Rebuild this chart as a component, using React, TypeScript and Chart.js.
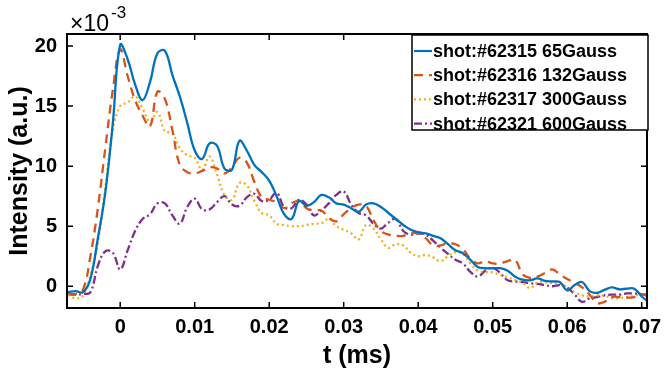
import React, { useEffect, useRef } from 'react';
import { Chart, registerables } from 'chart.js';

Chart.register(...registerables);

// time axis (ms)
const T_MS = [
  -0.007, -0.006, -0.005, -0.004, -0.003, -0.002, -0.001,
  0.0, 0.001, 0.002, 0.003, 0.004, 0.005, 0.006, 0.007, 0.008, 0.009,
  0.01, 0.011, 0.012, 0.013, 0.014, 0.015, 0.016, 0.017, 0.018, 0.019,
  0.02, 0.021, 0.022, 0.023, 0.024, 0.025, 0.026, 0.027, 0.028, 0.029,
  0.03, 0.031, 0.032, 0.033, 0.034, 0.035, 0.036, 0.037, 0.038, 0.039,
  0.04, 0.041, 0.042, 0.043, 0.044, 0.045, 0.046, 0.047, 0.048, 0.049,
  0.05, 0.051, 0.052, 0.053, 0.054, 0.055, 0.056, 0.057, 0.058, 0.059,
  0.06, 0.061, 0.062, 0.063, 0.064, 0.065, 0.066, 0.067, 0.068, 0.069,
  0.07, 0.0707,
];

// intensities in units of 1e-3 (a.u.)
const SHOT_62315 = [
  -0.5, -0.4, -0.5, 0.6, 4.0, 7.8, 13.5,
  20.1, 18.9, 16.8, 15.5, 17.0, 19.4, 19.6, 17.6, 15.8, 13.6,
  11.3, 10.6, 11.9, 11.7, 9.8, 9.7, 12.1, 11.3, 10.1, 9.5,
  8.8, 7.5, 6.0, 5.6, 7.1, 6.7, 7.0, 7.6, 7.4, 6.9,
  6.8, 6.5, 6.2, 6.8, 6.9, 6.6, 6.1, 5.6, 5.1, 4.7,
  4.5, 4.4, 4.2, 4.0, 3.5, 3.0, 2.75, 2.2, 1.6, 1.5,
  1.5, 1.5, 1.3, 0.8, 0.55, 0.5, 0.65, 0.45, 0.4, 0.35,
  -0.35, 0.1, 0.35, -0.4, -0.55, -0.3, -0.1, -0.25, -0.2, -0.2,
  -0.85, -1.2,
];

const SHOT_62316 = [
  -0.6, -0.65, -0.3, 2.5, 6.5, 11.5, 16.3,
  19.7, 17.5, 15.5, 14.2, 13.3, 16.2, 15.6, 13.0, 10.1, 9.5,
  9.4, 9.6, 9.9, 9.8, 9.4, 9.9, 10.7, 10.3, 8.7, 7.4,
  7.2, 7.0, 6.5, 6.9, 7.1, 6.5, 6.3, 6.3, 5.7, 5.4,
  6.0, 6.5, 6.8, 6.7, 5.5, 4.6, 4.3, 4.2, 4.2, 4.4,
  4.4, 4.0, 3.4, 3.4, 3.6, 3.5, 3.1, 2.3, 1.9, 2.1,
  1.9, 1.9, 2.1, 2.2, 1.0, 0.7, 0.8, 1.1, 1.4, 1.0,
  0.6, 0.3, -0.1, -0.7, -1.4, -1.3, -0.9, -0.9, -0.95, -0.9,
  -0.7, -0.8,
];

const SHOT_62317 = [
  -0.7, -1.0, -0.8, 0.9, 3.6, 8.2, 13.0,
  15.0, 15.3, 15.8, 14.8, 13.7, 14.5, 12.9, 12.75, 11.5, 10.9,
  10.7, 9.7, 10.8, 9.3, 7.6, 7.2, 8.6, 8.4, 7.1, 6.1,
  5.9, 5.2, 5.1, 5.0, 5.0, 5.1, 5.2, 5.25, 5.6, 5.0,
  4.7, 4.4, 3.9, 5.1, 4.8, 3.9, 3.2, 3.5, 3.4, 2.8,
  2.5, 2.6, 2.4, 2.1, 2.5, 2.85, 2.7, 1.9, 1.3, 1.2,
  1.15, 0.95, 0.75, 0.5, 0.3, -0.15, 0.3, 0.35, 0.25, 0.25,
  -0.1, -0.5, -0.75, -0.85, -0.75, -0.8, -1.0, -1.0, -0.9, -0.8,
  -0.7, -0.7,
];

const SHOT_62321 = [
  -0.7, -0.7, -0.65, -0.5, 1.7, 2.9, 2.8,
  1.4, 3.0, 4.6, 5.6, 6.0, 6.9, 6.9, 5.9, 5.2, 6.6,
  7.3, 6.4, 6.4, 7.0, 7.5, 6.8, 6.7, 7.4, 7.7, 7.1,
  7.2, 7.8, 6.6, 6.5, 7.2, 6.8, 5.9, 6.3, 6.9, 7.6,
  7.9, 6.8, 6.1, 5.9, 5.2, 4.8, 5.3, 5.6, 4.6, 4.3,
  4.4, 4.3, 3.8, 3.2, 2.7, 2.2, 1.9, 1.2, 0.8, 1.3,
  1.55, 1.1, 0.5, 0.4, 0.35, 0.25, 0.2, 0.1, 0.0, 0.1,
  -0.1, -0.7, -1.3, -1.0, -0.9, -0.75, -0.7, -0.7, -0.6, -0.6,
  -0.65, -0.7,
];

const SERIES_LABELS = [
  'shot:#62315 65Gauss',
  'shot:#62316 132Gauss',
  'shot:#62317 300Gauss',
  'shot:#62321 600Gauss',
];

const X_TICKS = [0, 0.01, 0.02, 0.03, 0.04, 0.05, 0.06, 0.07];
const Y_TICKS = [0, 5, 10, 15, 20];

const FONT = "'Liberation Sans', Arial, Helvetica, sans-serif";

const STYLES = [
  { color: '#0072BD', dash: [] as number[] },
  { color: '#D95319', dash: [9, 6] },
  { color: '#EDB120', dash: [2, 3] },
  { color: '#7E2F8E', dash: [8, 3, 2, 3] },
];

export default function App() {
  const ref = useRef<HTMLCanvasElement>(null);

  useEffect(() => {
    document.body.style.margin = '0';
    const canvas = ref.current;
    if (!canvas) return;

    const seriesValues = [SHOT_62315, SHOT_62316, SHOT_62317, SHOT_62321];

    const decor = {
      id: 'decor',
      afterDraw(chart: any) {
        const ctx = chart.ctx as CanvasRenderingContext2D;
        const { left, right, top, bottom } = chart.chartArea;
        const xs = chart.scales.x;
        const ys = chart.scales.y;
        ctx.save();
        // inward ticks
        ctx.strokeStyle = '#000';
        ctx.lineWidth = 1.5;
        ctx.setLineDash([]);
        const tl = 6;
        ctx.beginPath();
        X_TICKS.forEach((v) => {
          const px = xs.getPixelForValue(v);
          ctx.moveTo(px, bottom);
          ctx.lineTo(px, bottom - tl);
          ctx.moveTo(px, top);
          ctx.lineTo(px, top + tl);
        });
        Y_TICKS.forEach((v) => {
          const py = ys.getPixelForValue(v);
          ctx.moveTo(left, py);
          ctx.lineTo(left + tl, py);
          ctx.moveTo(right, py);
          ctx.lineTo(right - tl, py);
        });
        ctx.stroke();
        // axes box
        ctx.lineWidth = 2;
        ctx.strokeRect(left, top, right - left, bottom - top);

        // exponent label
        ctx.fillStyle = '#000';
        ctx.textBaseline = 'alphabetic';
        ctx.textAlign = 'left';
        ctx.font = `23px ${FONT}`;
        ctx.fillText('\u00d710', 70, 31);
        ctx.font = `17px ${FONT}`;
        ctx.fillText('-3', 111, 18);

        // legend
        const bx = 412, by = 35, bw = 236, bh = 95;
        ctx.fillStyle = '#fff';
        ctx.fillRect(bx, by, bw, bh);
        ctx.strokeStyle = '#000';
        ctx.lineWidth = 1.5;
        ctx.strokeRect(bx, by, bw, bh);
        ctx.font = `bold 18px ${FONT}`;
        ctx.textBaseline = 'middle';
        SERIES_LABELS.forEach((label, i) => {
          const y = 51 + i * 24.2;
          const st = STYLES[i];
          ctx.strokeStyle = st.color;
          ctx.lineWidth = 2.2;
          ctx.setLineDash(st.dash);
          ctx.beginPath();
          ctx.moveTo(414, y);
          ctx.lineTo(432, y);
          ctx.stroke();
          ctx.setLineDash([]);
          ctx.fillStyle = '#000';
          ctx.fillText(label, 433, y + 1);
        });
        ctx.restore();
      },
    };

    const chart = new Chart(canvas, {
      type: 'line',
      data: {
        datasets: SERIES_LABELS.map((label, i) => ({
          label,
          data: T_MS.map((t, j) => ({ x: t, y: seriesValues[i][j] })),
          borderColor: STYLES[i].color,
          backgroundColor: STYLES[i].color,
          borderDash: STYLES[i].dash,
          borderWidth: 2.3,
          pointRadius: 0,
          tension: 0.4,
          fill: false,
        })),
      },
      options: {
        animation: false,
        responsive: false,
        maintainAspectRatio: false,
        layout: { padding: { top: 34, right: 22, left: 0, bottom: 0 } },
        plugins: {
          legend: { display: false },
          tooltip: { enabled: false },
        },
        scales: {
          x: {
            type: 'linear',
            min: -0.00714,
            max: 0.07071,
            grid: { display: false, drawTicks: false },
            border: { display: false },
            afterBuildTicks: (scale: any) => {
              scale.ticks = X_TICKS.map((v) => ({ value: v }));
            },
            afterFit: (scale: any) => {
              scale.height = 68;
              scale.paddingLeft = 0;
              scale.paddingRight = 0;
            },
            ticks: {
              color: '#000',
              padding: 7,
              maxRotation: 0,
              autoSkip: false,
              font: { family: FONT, size: 20, weight: 'bold' },
              callback: (v: any) => (Number(v) === 0 ? '0' : String(+Number(v).toFixed(2))),
            },
            title: {
              display: true,
              text: 't (ms)',
              color: '#000',
              padding: { top: 0, bottom: 5 },
              font: { family: FONT, size: 25, weight: 'bold' },
            },
          },
          y: {
            type: 'linear',
            min: -1.81,
            max: 21.0,
            grid: { display: false, drawTicks: false },
            border: { display: false },
            afterBuildTicks: (scale: any) => {
              scale.ticks = Y_TICKS.map((v) => ({ value: v }));
            },
            afterFit: (scale: any) => {
              scale.width = 67;
              scale.paddingTop = 0;
              scale.paddingBottom = 0;
            },
            ticks: {
              color: '#000',
              padding: 10,
              autoSkip: false,
              font: { family: FONT, size: 20, weight: 'bold' },
              callback: (v: any) => String(v),
            },
            title: {
              display: true,
              text: 'Intensity (a.u.)',
              color: '#000',
              padding: { top: 5, bottom: 0 },
              font: { family: FONT, size: 25, weight: 'bold' },
            },
          },
        },
      },
      plugins: [decor],
    } as any);

    return () => chart.destroy();
  }, []);

  return (
    <div style={{ position: 'relative', width: 669, height: 376, background: '#fff' }}>
      <canvas ref={ref} width={669} height={376} style={{ width: 669, height: 376, display: 'block' }} />
    </div>
  );
}
